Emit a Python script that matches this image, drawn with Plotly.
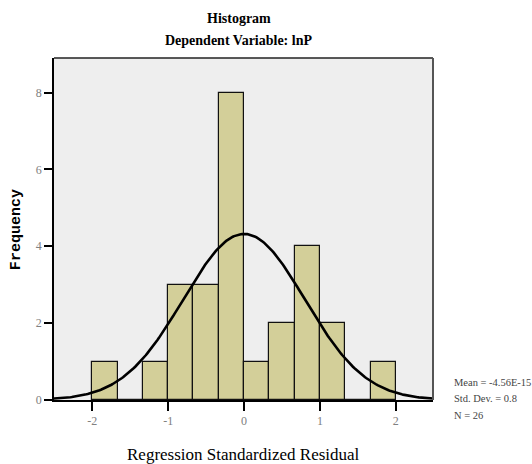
import numpy as np
import plotly.graph_objects as go

# ---- data ----
bin_left_edges = [-2.0, -1.6667, -1.3333, -1.0, -0.6667, -0.3333, 0.0, 0.3333, 0.6667, 1.0, 1.3333, 1.6667]
counts = [1, 0, 1, 3, 3, 8, 1, 2, 4, 2, 0, 1]
bin_width = 1 / 3
stat_mean = -4.56e-15
stat_sd = 0.8
stat_n = 26
x_ticks = [-2, -1, 0, 1, 2]
y_ticks = [0, 2, 4, 6, 8]

centers = [e + bin_width / 2 for e in bin_left_edges]

# normal curve defined by the reported mean / sd / N (as drawn by the original software)
xc = np.linspace(-2.6, 2.6, 300)
yc = stat_n * bin_width / (stat_sd * np.sqrt(2 * np.pi)) * np.exp(-0.5 * ((xc - stat_mean) / stat_sd) ** 2)

serif = "Liberation Serif"

fig = go.Figure()
fig.add_trace(go.Bar(
    x=centers, y=counts, width=bin_width,
    marker=dict(color="#D3CF99", line=dict(color="#111111", width=1.2)),
    hoverinfo="skip",
))
fig.add_trace(go.Scatter(
    x=xc, y=yc, mode="lines",
    line=dict(color="#000000", width=2.6),
    hoverinfo="skip",
))

fig.update_layout(
    width=532, height=464,
    margin=dict(l=54, r=99, t=58, b=64),
    paper_bgcolor="#FFFFFF",
    plot_bgcolor="#EEEEEE",
    showlegend=False,
    bargap=0,
    font=dict(family=serif, color="#000000"),
    xaxis=dict(
        range=[-2.505, 2.49], tickvals=x_ticks, ticktext=[str(v) for v in x_ticks],
        showgrid=False, zeroline=False, showline=True, linecolor="#000000", linewidth=1.5,
        ticks="outside", ticklen=9, tickwidth=1.5, tickcolor="#000000",
        tickfont=dict(family=serif, size=12, color="#808080"),
    ),
    yaxis=dict(
        range=[0, 8.9], tickvals=y_ticks, ticktext=[str(v) for v in y_ticks],
        showgrid=False, zeroline=False, showline=True, linecolor="#000000", linewidth=1.5,
        ticks="outside", ticklen=8, tickwidth=1.5, tickcolor="#000000",
        tickfont=dict(family=serif, size=12, color="#808080"),
    ),
    shapes=[
        dict(type="line", xref="paper", yref="paper", x0=0, x1=1, y0=1, y1=1,
             line=dict(color="#222222", width=1.5), layer="above"),
        dict(type="line", xref="paper", yref="paper", x0=1, x1=1, y0=0, y1=1,
             line=dict(color="#555555", width=2), layer="above"),
    ],
    annotations=[
        dict(text="<b>Histogram</b>", xref="paper", yref="paper", x=0.487, y=1.115,
             xanchor="center", yanchor="middle", showarrow=False,
             font=dict(family=serif, size=14, color="#000000")),
        dict(text="<b>Dependent Variable: lnP</b>", xref="paper", yref="paper", x=0.487, y=1.05,
             xanchor="center", yanchor="middle", showarrow=False,
             font=dict(family=serif, size=14, color="#000000")),
        dict(text="<b>Frequency</b>", xref="paper", yref="paper", x=-0.1, y=0.497,
             xanchor="center", yanchor="middle", showarrow=False, textangle=-90,
             font=dict(family="Liberation Mono, Courier New, monospace", size=15, color="#000000")),
        dict(text="Regression Standardized Residual", xref="paper", yref="paper", x=0.501, y=-0.16,
             xanchor="center", yanchor="middle", showarrow=False,
             font=dict(family=serif, size=17, color="#000000")),
        dict(text="Mean = -4.56E-15", xref="paper", yref="paper", x=1.05, y=0.05,
             xanchor="left", yanchor="middle", showarrow=False,
             font=dict(family=serif, size=10.5, color="#444444")),
        dict(text="Std. Dev. = 0.8", xref="paper", yref="paper", x=1.05, y=0.003,
             xanchor="left", yanchor="middle", showarrow=False,
             font=dict(family=serif, size=10.5, color="#444444")),
        dict(text="N = 26", xref="paper", yref="paper", x=1.05, y=-0.044,
             xanchor="left", yanchor="middle", showarrow=False,
             font=dict(family=serif, size=10.5, color="#444444")),
    ],
)

fig.write_html("out.html", config={"displayModeBar": False},
               post_script="document.body.style.margin='0';document.body.style.overflow='hidden';")
